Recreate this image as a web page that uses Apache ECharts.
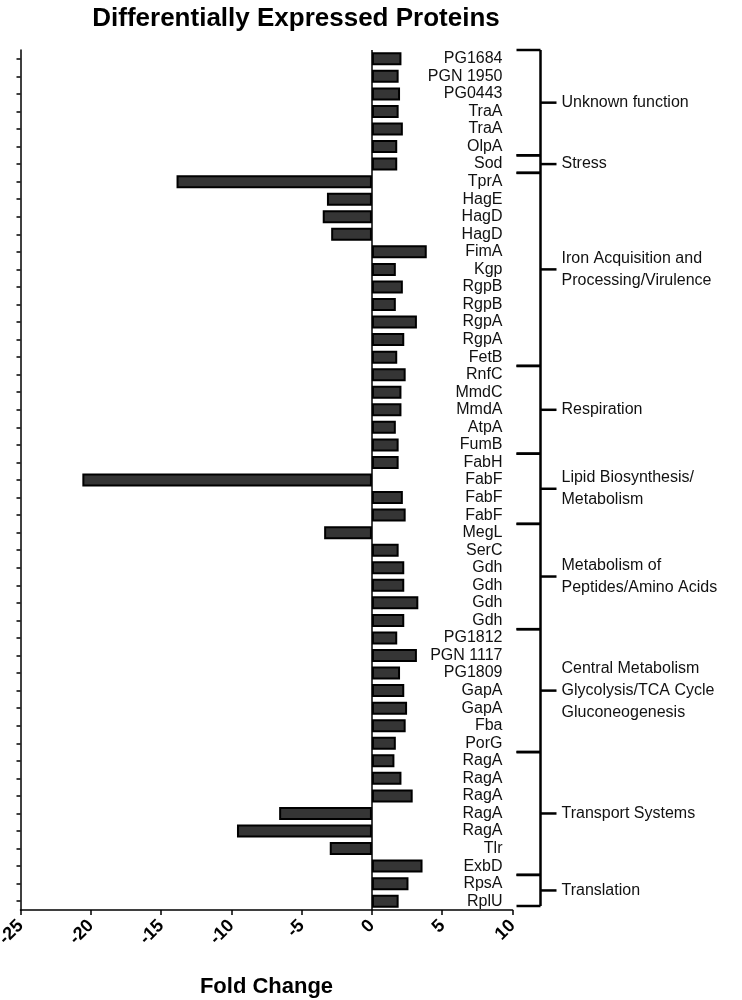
<!DOCTYPE html>
<html>
<head>
<meta charset="utf-8">
<style>
html,body{margin:0;padding:0;background:#fff;}
#chart{width:742px;height:1000px;}
</style>
<script src="https://cdn.jsdelivr.net/npm/echarts@6/dist/echarts.min.js"></script>
</head>
<body>
<div id="chart"></div>
<script>
var categories = ["PG1684","PGN 1950","PG0443","TraA","TraA","OlpA","Sod","TprA","HagE","HagD","HagD","FimA","Kgp","RgpB","RgpB","RgpA","RgpA","FetB","RnfC","MmdC","MmdA","AtpA","FumB","FabH","FabF","FabF","FabF","MegL","SerC","Gdh","Gdh","Gdh","Gdh","PG1812","PGN 1117","PG1809","GapA","GapA","Fba","PorG","RagA","RagA","RagA","RagA","RagA","Tlr","ExbD","RpsA","RplU"];
var foldChange = [2.1,1.9,2.0,1.9,2.2,1.8,1.8,-13.9,-3.2,-3.5,-2.9,3.9,1.7,2.2,1.7,3.2,2.3,1.8,2.4,2.1,2.1,1.7,1.9,1.9,-20.6,2.2,2.4,-3.4,1.9,2.3,2.3,3.3,2.3,1.8,3.2,2.0,2.3,2.5,2.4,1.7,1.6,2.1,2.9,-6.6,-9.6,-3.0,3.6,2.6,1.9];
var xTicks = [-25,-20,-15,-10,-5,0,5,10];
var groupNames = ["Unknown function","Stress","Iron Acquisition and\nProcessing/Virulence","Respiration","Lipid Biosynthesis/\nMetabolism","Metabolism of\nPeptides/Amino Acids","Central Metabolism\nGlycolysis/TCA Cycle\nGluconeogenesis","Transport Systems","Translation"];
var groupStart = [0,6,7,18,23,27,33,40,47];
var groupEnd   = [5,6,17,22,26,32,39,46,48];

var FONT = "'Liberation Sans', Arial, sans-serif";
var chart = echarts.init(document.getElementById('chart'));
var option = {
  animation: false,
  backgroundColor: '#fff',
  title: {
    text: 'Differentially Expressed Proteins',
    left: 291, top: 1, textAlign: 'center',
    textStyle: {fontFamily: FONT, fontWeight: 'bold', fontSize: 26, color: '#000'}
  },
  grid: {left: 20.5, right: 229.5, top: 50, bottom: 90, containLabel: false, outerBoundsMode: 'none'},
  xAxis: {
    type: 'value', min: xTicks[0], max: xTicks[xTicks.length-1], interval: 5,
    name: 'Fold Change', nameLocation: 'middle', nameGap: 66,
    nameTextStyle: {fontFamily: FONT, fontWeight: 'bold', fontSize: 22, color: '#000'},
    axisLine: {show: true, onZero: false, lineStyle: {color: '#000', width: 1.5}},
    axisTick: {show: true, length: 5, lineStyle: {color: '#000', width: 1.5}},
    axisLabel: {rotate: 45, margin: 13, fontFamily: FONT, fontWeight: 'bold', fontSize: 18, color: '#000'},
    splitLine: {show: false}
  },
  yAxis: [{
    type: 'category', data: categories, inverse: true, position: 'left',
    axisLine: {show: true, onZero: false, lineStyle: {color: '#000', width: 1.5}},
    axisTick: {show: true, alignWithLabel: true, length: 4, lineStyle: {color: '#000', width: 1.5}},
    axisLabel: {show: false}
  },{
    type: 'category', data: categories, inverse: true, position: 'right',
    axisLine: {show: false}, axisTick: {show: false},
    axisLabel: {show: true, inside: true, margin: 10, interval: 0, fontFamily: FONT, fontSize: 16, color: '#111'}
  }],
  series: [{
    type: 'bar', yAxisIndex: 0, data: foldChange, barWidth: 13,
    itemStyle: {color: '#353535', borderColor: '#000', borderWidth: 2},
    markLine: {
      silent: true, symbol: 'none', label: {show: false},
      lineStyle: {color: '#000', width: 1.5, type: 'solid'},
      data: [{xAxis: 0}]
    }
  }]
};
chart.setOption(option);

function drawBrackets(){
  var c0 = chart.convertToPixel({yAxisIndex: 0}, 0);
  var c1 = chart.convertToPixel({yAxisIndex: 0}, 1);
  var band = c1 - c0;
  var xr = chart.convertToPixel({xAxisIndex: 0}, xTicks[xTicks.length-1]);
  var xv = xr + 28, xl = xr + 4, xt = xr + 44;
  var els = [];
  var lw = 2.5;
  var topY = chart.convertToPixel({yAxisIndex: 0}, groupStart[0]) - band/2;
  var botY = chart.convertToPixel({yAxisIndex: 0}, groupEnd[groupEnd.length-1]) + band/2 - 4;
  els.push({type:'line', shape:{x1:xv,y1:topY,x2:xv,y2:botY}, style:{stroke:'#000',lineWidth:lw}});
  for (var i=0;i<groupNames.length;i++){
    var yt = chart.convertToPixel({yAxisIndex: 0}, groupStart[i]) - band/2;
    var yb = chart.convertToPixel({yAxisIndex: 0}, groupEnd[i]) + band/2;
    if (i === groupNames.length-1) yb -= 4;
    var ym = (yt+yb)/2;
    els.push({type:'line', shape:{x1:xl,y1:yt,x2:xv,y2:yt}, style:{stroke:'#000',lineWidth:lw}});
    els.push({type:'line', shape:{x1:xl,y1:yb,x2:xv,y2:yb}, style:{stroke:'#000',lineWidth:lw}});
    els.push({type:'line', shape:{x1:xv,y1:ym,x2:xv+16,y2:ym}, style:{stroke:'#000',lineWidth:lw}});
    els.push({type:'text', x: xt+5, y: ym, style:{text: groupNames[i], fill:'#111', font: '16px ' + FONT, textAlign:'left', textVerticalAlign:'middle', lineHeight: 22}});
  }
  chart.setOption({graphic: {elements: els}});
}
drawBrackets();
</script>
</body>
</html>
